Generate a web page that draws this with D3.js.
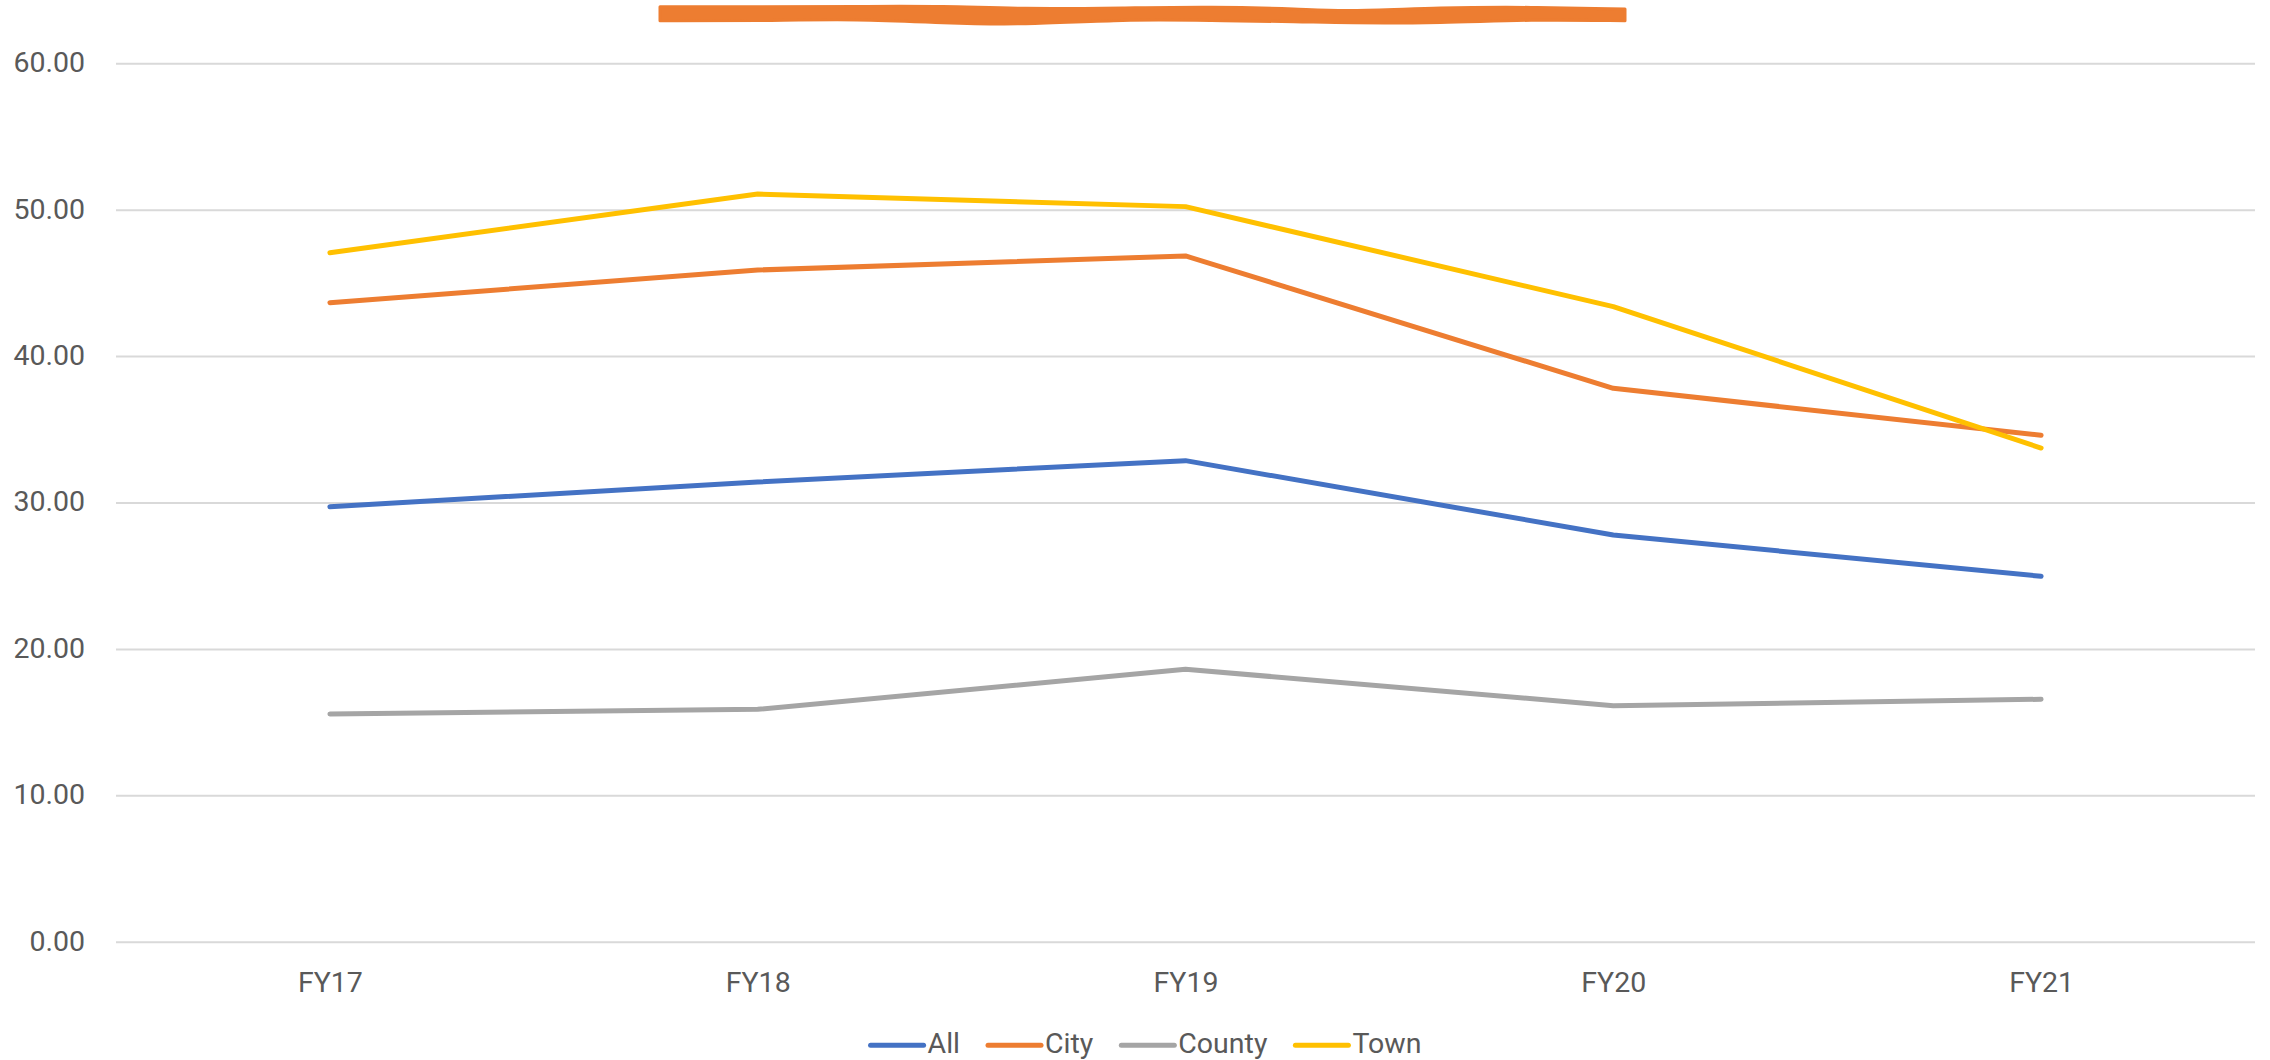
<!DOCTYPE html>
<html>
<head>
<meta charset="utf-8">
<script src="https://d3js.org/d3.v7.min.js"></script>
<style>
  body { margin: 0; background: #fff; }
  text { font-family: Roboto, "Open Sans", sans-serif; fill: #595959; }
</style>
</head>
<body>
<script>
// chart data
var years = ["FY17", "FY18", "FY19", "FY20", "FY21"];
var seriesNames = ["All", "City", "County", "Town"];
var allValues = [29.71, 31.40, 32.86, 27.78, 24.96];
var cityValues = [43.65, 45.88, 46.84, 37.80, 34.59];
var countyValues = [15.55, 15.87, 18.61, 16.12, 16.56];
var townValues = [47.06, 51.07, 50.21, 43.38, 33.72];
var yTicks = [0, 10, 20, 30, 40, 50, 60];

// define colors
var colors = ["#4472C4", "#ED7D31", "#A5A5A5", "#FFC000"];

// define size
var width = 2270,
    height = 1060,
    plot = {left: 116, right: 2255, top: 63.3, bottom: 941.7};

// define svg
var svg = d3.select("body")
  .append("svg")
  .attr("width", width)
  .attr("height", height);

// define x
var x = d3.scalePoint()
    .domain(years)
    .range([plot.left, plot.right])
    .padding(0.5);

// define y
var y = d3.scaleLinear()
    .domain([0, 60])
    .range([plot.bottom, plot.top]);

// gridlines
var yAxis = svg.append("g")
    .attr("transform", "translate(" + plot.left + ",0)")
    .call(d3.axisLeft(y)
      .tickValues(yTicks)
      .tickSize(-(plot.right - plot.left))
      .tickPadding(31)
      .tickFormat(d3.format(".2f")));
yAxis.select(".domain").remove();
yAxis.selectAll(".tick line")
    .attr("stroke", "#d9d9d9")
    .attr("stroke-width", 2);
yAxis.selectAll(".tick text")
    .attr("font-size", "28.5px")
    .attr("dy", "8.4px")
    .attr("fill", "#595959");

// x axis labels
var xAxis = svg.append("g")
    .attr("transform", "translate(0," + plot.bottom + ")")
    .call(d3.axisBottom(x).tickSize(0).tickPadding(0));
xAxis.select(".domain").remove();
xAxis.selectAll(".tick text")
    .attr("font-size", "28.5px")
    .attr("y", 50)
    .attr("dy", 0)
    .attr("fill", "#595959");

// build series
var series = [allValues, cityValues, countyValues, townValues].map(function(vals, i) {
  return {
    name: seriesNames[i],
    color: colors[i],
    values: vals.map(function(v, j) { return {year: years[j], value: v}; })
  };
});

var line = d3.line()
    .x(function(d) { return x(d.year); })
    .y(function(d) { return y(d.value); });

svg.append("g")
  .selectAll("path")
  .data(series)
  .enter().append("path")
    .attr("fill", "none")
    .attr("stroke", function(d) { return d.color; })
    .attr("stroke-width", 5)
    .attr("stroke-linecap", "round")
    .attr("stroke-linejoin", "round")
    .attr("d", function(d) { return line(d.values); });

// legend
var legend = svg.append("g");
var lx = 0;
series.forEach(function(s) {
  var item = legend.append("g").attr("transform", "translate(" + lx + ",0)");
  item.append("line")
      .attr("x1", 2).attr("x2", 55)
      .attr("y1", 0).attr("y2", 0)
      .attr("stroke", s.color)
      .attr("stroke-width", 5)
      .attr("stroke-linecap", "round");
  var t = item.append("text")
      .attr("x", 59)
      .attr("y", 8)
      .attr("font-size", "28.5px")
      .text(s.name);
  lx += 59 + t.node().getComputedTextLength() + 26;
});
lx -= 26;
legend.attr("transform", "translate(" + (1145 - lx / 2) + ",1045.3)");

// scribble over the title
var scribbleX = [660, 760, 860, 944, 1021, 1126, 1210, 1302, 1344, 1442, 1530, 1625];
var scribbleTop = [6.7, 6.7, 6.5, 6, 9, 8, 6.7, 9, 11.5, 7.5, 7, 9];
var scribbleBottom = [20.7, 20.7, 19, 23, 25, 19.3, 20.5, 21.7, 23, 23, 19.5, 20.7];

var scribble = d3.area()
    .x(function(d, i) { return scribbleX[i]; })
    .y0(function(d, i) { return scribbleBottom[i]; })
    .y1(function(d, i) { return scribbleTop[i]; })
    .curve(d3.curveBasis);

svg.append("path")
    .datum(scribbleX)
    .attr("fill", "#ED7D31")
    .attr("stroke", "#ED7D31")
    .attr("stroke-width", 3)
    .attr("stroke-linejoin", "round")
    .attr("d", scribble);
</script>
</body>
</html>
